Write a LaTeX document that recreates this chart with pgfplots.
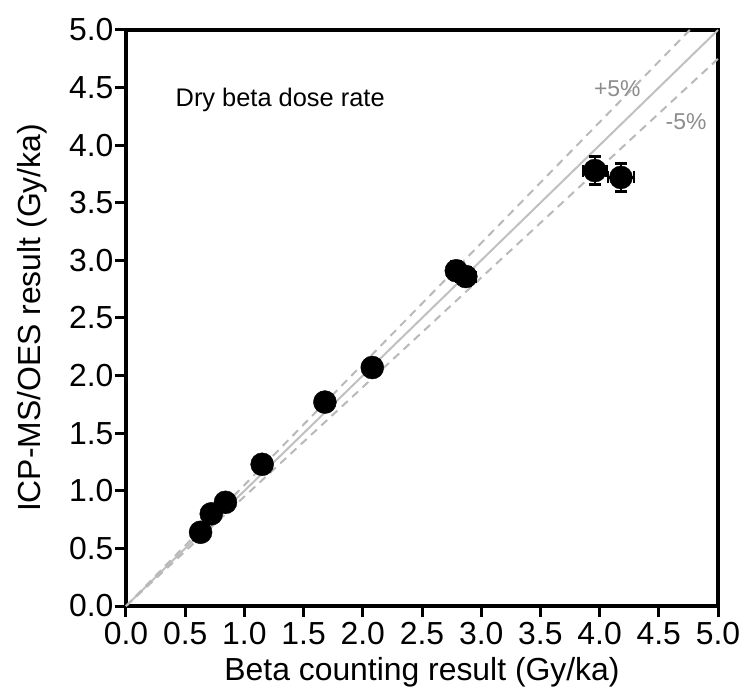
\documentclass[border=0pt]{standalone}
\usepackage{fontspec}
\setmainfont{Liberation Sans}
\usepackage{pgfplots}
\usepackage{pgfplotstable}
\pgfplotsset{compat=1.18}
\definecolor{lgray}{RGB}{192,192,192}
\definecolor{dgray}{RGB}{185,185,185}
\definecolor{tgray}{RGB}{140,140,140}
\pgfplotstableread{
x y ex ey
0.63 0.64 0.03 0.03
0.72 0.80 0.03 0.03
0.84 0.90 0.03 0.03
1.15 1.23 0.04 0.04
1.68 1.77 0.05 0.05
2.08 2.07 0.06 0.06
2.79 2.91 0.08 0.08
2.87 2.86 0.08 0.08
3.96 3.78 0.10 0.12
4.18 3.72 0.11 0.12
}\datatable
\begin{document}
\begin{tikzpicture}
\useasboundingbox (-126bp,-83bp) rectangle (618bp,606bp);
\begin{axis}[
  anchor=south west, at={(0,0)},
  scale only axis, width=592bp, height=576bp,
  xmin=0, xmax=5, ymin=0, ymax=5,
  xtick={0,0.5,...,5}, ytick={0,0.5,...,5},
  /pgf/number format/.cd, fixed, fixed zerofill, precision=1, assume math mode=true,
  /pgfplots/.cd,
  tick label style={font=\fontsize{32}{34}\selectfont},
  yticklabel style={xshift=2bp},
  xticklabel style={yshift=-2bp},
  axis line style={line width=3.8bp},
  tick style={line width=3bp, black},
  tick align=outside, major tick length=11bp,
  xtick pos=bottom, ytick pos=left,
  xlabel={Beta counting result (Gy/ka)},
  ylabel={ICP-MS/OES result (Gy/ka)},
  label style={font=\fontsize{32}{34}\selectfont},
  xlabel style={at={(axis description cs:0.5,0)}, anchor=center, yshift=-66bp},
  ylabel style={at={(axis description cs:0,0.5)}, anchor=center, yshift=94bp},
  clip=false,
]
\addplot[lgray, line width=2bp] coordinates {(0,0) (5,5)};
\addplot[dgray, line width=2bp, dash pattern=on 8bp off 6bp] coordinates {(0,0) (4.7619,5)};
\addplot[dgray, line width=2bp, dash pattern=on 8bp off 6bp] coordinates {(0,0) (5,4.75)};
\addplot[black, only marks, mark=*, mark size=11.5bp,
  error bars/.cd, x dir=both, x explicit, y dir=both, y explicit,
  error bar style={line width=2.5bp, black},
  error mark options={rotate=90, mark size=6bp, line width=2.5bp, black}]
  table[x=x, y=y, x error=ex, y error=ey] {\datatable};
\node[anchor=west, font=\fontsize{25.5}{27}\selectfont] at (axis cs:0.39,4.39) {Dry beta dose rate};
\node[font=\fontsize{23}{24}\selectfont, text=tgray] at (axis cs:4.15,4.49) {+5\%};
\node[font=\fontsize{23}{24}\selectfont, text=tgray] at (axis cs:4.73,4.2) {-5\%};
\end{axis}
\end{tikzpicture}
\end{document}
